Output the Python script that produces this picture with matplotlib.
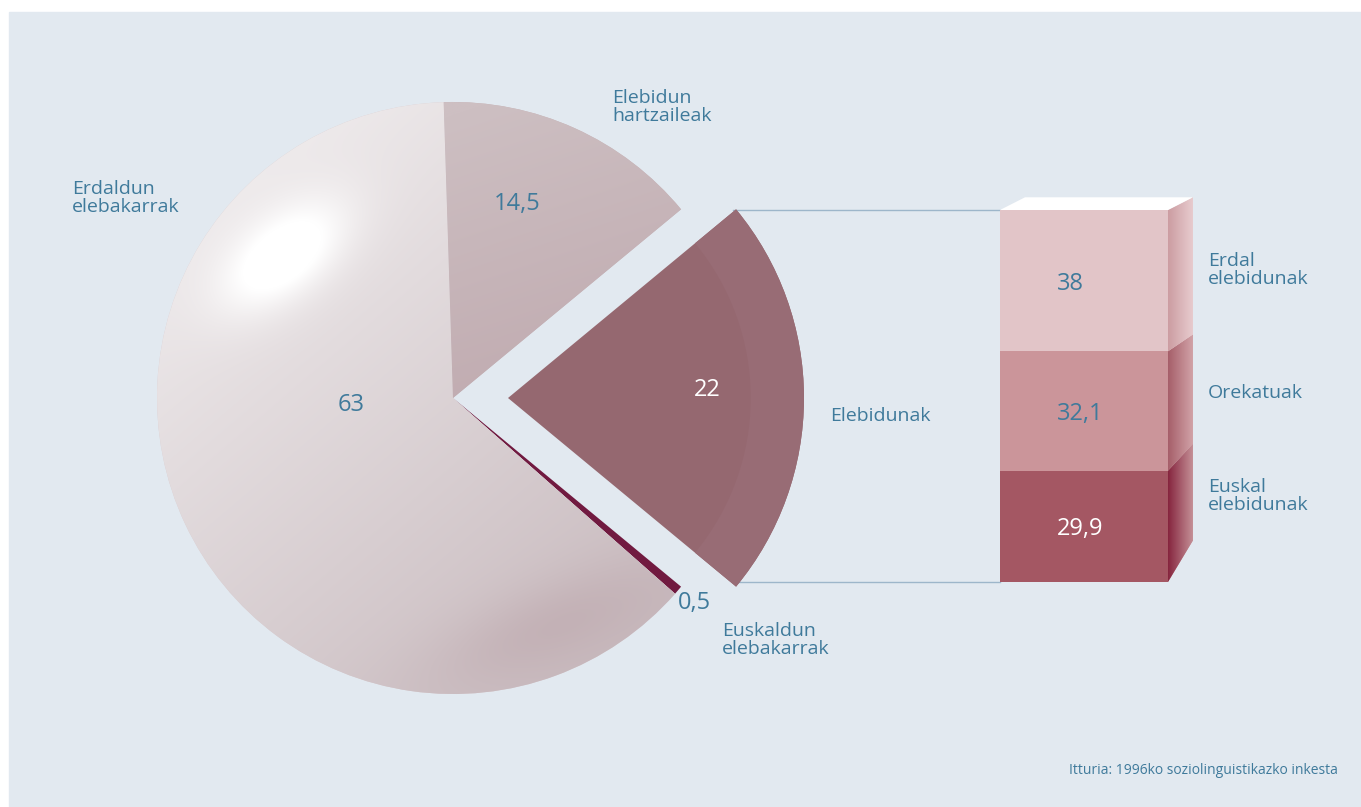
import matplotlib
matplotlib.use("Agg")
import matplotlib.pyplot as plt
import numpy as np
from matplotlib.patches import Polygon, Wedge, Rectangle

plt.rcParams['font.family'] = ['Open Sans', 'DejaVu Sans']

# pie: population by language competence (%)
pie_labels = ["Elebidun\nhartzaileak", "Elebidunak", "Euskaldun\nelebakarrak", "Erdaldun\nelebakarrak"]
pie_values = [14.5, 22, 0.5, 63]
pie_value_text = ["14,5", "22", "0,5", "63"]

# breakdown of the "Elebidunak" slice (bottom to top)
bar_labels = ["Euskal\nelebidunak", "Orekatuak", "Erdal\nelebidunak"]
bar_values = [29.9, 32.1, 38]
bar_value_text = ["29,9", "32,1", "38"]

source = "Itturia: 1996ko soziolinguistikazko inkesta"

# layout in pixels (y measured from the bottom)
W, H = 1361, 807
BG = "#e2e9f0"
TXT = "#3f7a9b"
pie_cx, pie_cy, pie_r = 453, H - 398, 296
bar_x0, bar_w, bar_y0, bar_px = 1000, 168, H - 582, 3.72   # px per percent
side_dx = 25

pie_colors = ["#c6b4b8", "#956870", "#711a40", "#d8ccd0"]
bar_colors = ["#a45763", "#cb959a", "#e2c5c8"]
side_colors = [("#86263f", "#c48f96"), ("#a65f6a", "#d1a2a7"), ("#cc9da2", "#e7cbce")]


def hex2rgb(c):
    return np.array(matplotlib.colors.to_rgb(c))


def lin_grad(X, Y, c0, c1, p0, p1):
    d = np.array(p1, float) - np.array(p0, float)
    t = ((X - p0[0]) * d[0] + (Y - p0[1]) * d[1]) / (d @ d)
    t = np.clip(t, 0, 1)[..., None]
    return hex2rgb(c0) * (1 - t) + hex2rgb(c1) * t


def blob(X, Y, c, a, b, ang):
    ca, sa = np.cos(np.radians(ang)), np.sin(np.radians(ang))
    u = ((X - c[0]) * ca + (Y - c[1]) * sa) / a
    v = (-(X - c[0]) * sa + (Y - c[1]) * ca) / b
    return np.exp(-(u ** 2 + v ** 2))[..., None]


def side_dy(y):
    # back edge of the 3d side rises more towards the bottom
    f = (bar_y0 + 100 * bar_px - y) / (100 * bar_px)
    return 12.7 + 29 * f ** 2


fig = plt.figure(figsize=(W / 100, H / 100), dpi=100, facecolor="white")
ax = fig.add_axes([0, 0, 1, 1])
ax.add_patch(Rectangle((9, 0), W - 9, H - 12, color=BG, zorder=0))

wedges, _ = ax.pie(pie_values, colors=pie_colors, startangle=91.8, counterclock=False,
                   radius=pie_r, center=(pie_cx, pie_cy), explode=[0, 55, 0, 0],
                   wedgeprops=dict(linewidth=0))
for w in wedges:
    w.set_zorder(2)

# sphere-like shading for the big slices
xs = np.linspace(pie_cx - pie_r, pie_cx + pie_r, 600)
ys = np.linspace(pie_cy - pie_r, pie_cy + pie_r, 600)
X, Y = np.meshgrid(xs, ys)
ext = (xs[0], xs[-1], ys[0], ys[-1])

img = lin_grad(X, Y, "#f1eeef", "#c9bbbf", (200, H - 150), (620, H - 640))
g = np.clip(1.5 * blob(X, Y, (282, H - 255), 72, 40, 38), 0, 1)
img = img * (1 - g) + g
s = blob(X, Y, (555, H - 625), 125, 42, 22) * 0.45
img = img * (1 - s) + hex2rgb("#b9a1a7") * s
ax.imshow(np.clip(img, 0, 1), extent=ext, origin="lower", clip_path=wedges[3], zorder=3)

img2 = lin_grad(X, Y, "#cdbfc2", "#c1acb1", (470, H - 110), (560, H - 380))
ax.imshow(img2, extent=ext, origin="lower", clip_path=wedges[0], zorder=3)

# faint lighter outer band on the exploded slice
w22 = wedges[1]
ax.add_patch(Wedge(w22.center, w22.r, w22.theta1, w22.theta2, width=w22.r * 0.18,
                   color="#986c75", linewidth=0, zorder=3))

# stacked 3d bar
bottoms = np.concatenate([[0], np.cumsum(bar_values)[:-1]])
bars = ax.bar(bar_x0 + bar_w / 2, np.array(bar_values) * bar_px,
              bottom=bar_y0 + bottoms * bar_px, width=bar_w, color=bar_colors,
              linewidth=0, zorder=3)
for rect, (c0, c1) in zip(bars, side_colors):
    x1 = rect.get_x() + rect.get_width()
    b, t = rect.get_y(), rect.get_y() + rect.get_height()
    poly = Polygon([(x1, b), (x1 + side_dx, b + side_dy(b)), (x1 + side_dx, t + side_dy(t)), (x1, t)],
                   closed=True, facecolor=c1, linewidth=0, zorder=3)
    ax.add_patch(poly)
    sx = np.linspace(x1, x1 + side_dx, 40)
    SX, SY = np.meshgrid(sx, [b, t + 45])
    simg = lin_grad(SX, SY, c0, c1, (x1, 0), (x1 + side_dx, 0))
    ax.imshow(simg, extent=(x1, x1 + side_dx, b, t + 45), origin="lower",
              clip_path=poly, zorder=4, interpolation="bilinear")
top = bars[-1].get_y() + bars[-1].get_height()
ax.add_patch(Polygon([(bar_x0, top), (bar_x0 + side_dx, top + side_dy(top)),
                      (bar_x0 + bar_w + side_dx, top + side_dy(top)), (bar_x0 + bar_w, top)],
                     closed=True, facecolor="white", linewidth=0, zorder=4))

# connecting lines from the exploded slice to the bar
for ang, y in [(w22.theta2, top), (w22.theta1, bar_y0)]:
    tip_x = w22.center[0] + w22.r * np.cos(np.radians(ang))
    ax.plot([tip_x - 3, bar_x0], [y, y], color="#9db6ca", lw=1, zorder=1)

# pie value labels and names
pie_value_pos = [(494, 204), (694, 390), (678, 603), (338, 405)]
pie_value_col = [TXT, "white", TXT, TXT]
for txt, (px, py), col in zip(pie_value_text, pie_value_pos, pie_value_col):
    ax.text(px, H - py, txt, color=col, fontsize=17, ha="left", va="center", zorder=6)

pie_label_pos = [(612, 107), (830, 416), (722, 640), (72, 198)]
for txt, (px, py) in zip(pie_labels, pie_label_pos):
    ax.text(px, H - py, txt, color=TXT, fontsize=14, ha="left", va="center",
            linespacing=0.95, zorder=6)

# bar value labels and names
for rect, txt, lab in zip(bars, bar_value_text, bar_labels):
    b, t = rect.get_y(), rect.get_y() + rect.get_height()
    mid = (b + t) / 2
    col = "white" if txt == bar_value_text[0] else TXT
    ax.text(bar_x0 + 57, mid - 3, txt, color=col, fontsize=17, ha="left", va="center", zorder=6)
    ly = mid + (side_dy(b) + side_dy(t)) / 2 - 4
    ax.text(1208, ly, lab, color=TXT, fontsize=14, ha="left", va="center",
            linespacing=0.95, zorder=6)

ax.text(1338, H - 771, source, color=TXT, fontsize=10, ha="right", va="center", zorder=6)

ax.set_xlim(0, W)
ax.set_ylim(0, H)
ax.set_aspect("auto")
ax.axis("off")
fig.savefig("out.png", dpi=100, facecolor="white")
